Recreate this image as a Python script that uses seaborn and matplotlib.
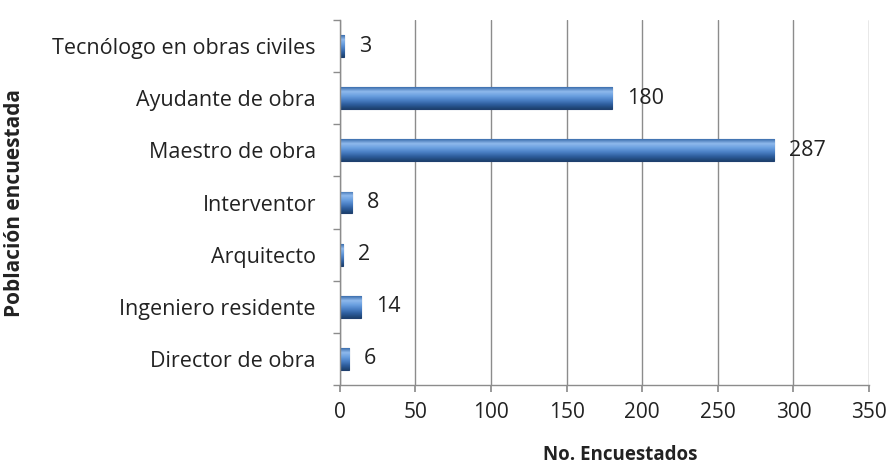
import numpy as np
import pandas as pd
import matplotlib
matplotlib.use('Agg')
import matplotlib.pyplot as plt
import seaborn as sns

categories = ['Tecnólogo en obras civiles', 'Ayudante de obra', 'Maestro de obra',
              'Interventor', 'Arquitecto', 'Ingeniero residente', 'Director de obra']
counts = [3, 180, 287, 8, 2, 14, 6]
x_ticks = [0, 50, 100, 150, 200, 250, 300, 350]

df = pd.DataFrame({'Poblacion': categories, 'Encuestados': counts})

sns.set_theme(style='white')
plt.rcParams['font.family'] = ['Open Sans', 'DejaVu Sans']
fs = 15.5

fig = plt.figure(figsize=(8.96, 4.65), dpi=100)
ax = fig.add_axes([0.379, 0.172, 0.591, 0.785])

sns.barplot(data=df, x='Encuestados', y='Poblacion', orient='h', width=0.42,
            color='#4a7fc1', edgecolor='#1f3f6e', linewidth=0.8, saturation=1, ax=ax)

# Excel-like cylinder shading on each bar
grad = np.linspace(0, 1, 64).reshape(-1, 1)
cmap = matplotlib.colors.LinearSegmentedColormap.from_list(
    'bar', ['#3d6fae', '#8fb9ec', '#6a9fe0', '#4a7fc4', '#2d5d9c', '#1d416f'])
for p in ax.patches:
    x0, y0 = p.get_x(), p.get_y()
    w, h = p.get_width(), p.get_height()
    im = ax.imshow(grad, cmap=cmap, aspect='auto', extent=(x0, x0 + w, y0 + h, y0),
                   zorder=p.get_zorder() + 0.1)
    im.set_clip_path(p)

ax.set_xlim(0, 350)
ax.set_ylim(len(categories) - 0.5, -0.5)
ax.set_xticks(x_ticks)
ax.xaxis.grid(True, color='#8c8c8c', linewidth=1)
ax.set_axisbelow(True)

for i, v in enumerate(counts):
    ax.text(v + 10, i, str(v), va='center', ha='left', fontsize=fs, color='#222222')

ax.set_yticks(np.arange(len(categories)))
ax.set_yticklabels(categories)
ax.set_yticks(np.arange(-0.5, len(categories)), minor=True)
ax.tick_params(axis='y', which='major', length=0, pad=17, labelsize=fs, labelcolor='#222222')
ax.tick_params(axis='y', which='minor', length=5, color='#8c8c8c', direction='out', left=True)
ax.tick_params(axis='x', length=5, color='#8c8c8c', direction='out', bottom=True,
               pad=7, labelsize=15, labelcolor='#222222')

for s in ['top', 'right']:
    ax.spines[s].set_visible(False)
for s in ['left', 'bottom']:
    ax.spines[s].set_color('#8c8c8c')
    ax.spines[s].set_linewidth(1)

ax.set_xlabel('No. Encuestados', fontsize=13.5, fontweight='bold', color='#222222', labelpad=14)
ax.xaxis.set_label_coords(0.53, -0.165)
ax.set_ylabel('Población encuestada', fontsize=15, fontweight='bold', color='#222222')
ax.yaxis.set_label_coords(-0.595, 0.5)

plt.savefig('out.png', dpi=100)
